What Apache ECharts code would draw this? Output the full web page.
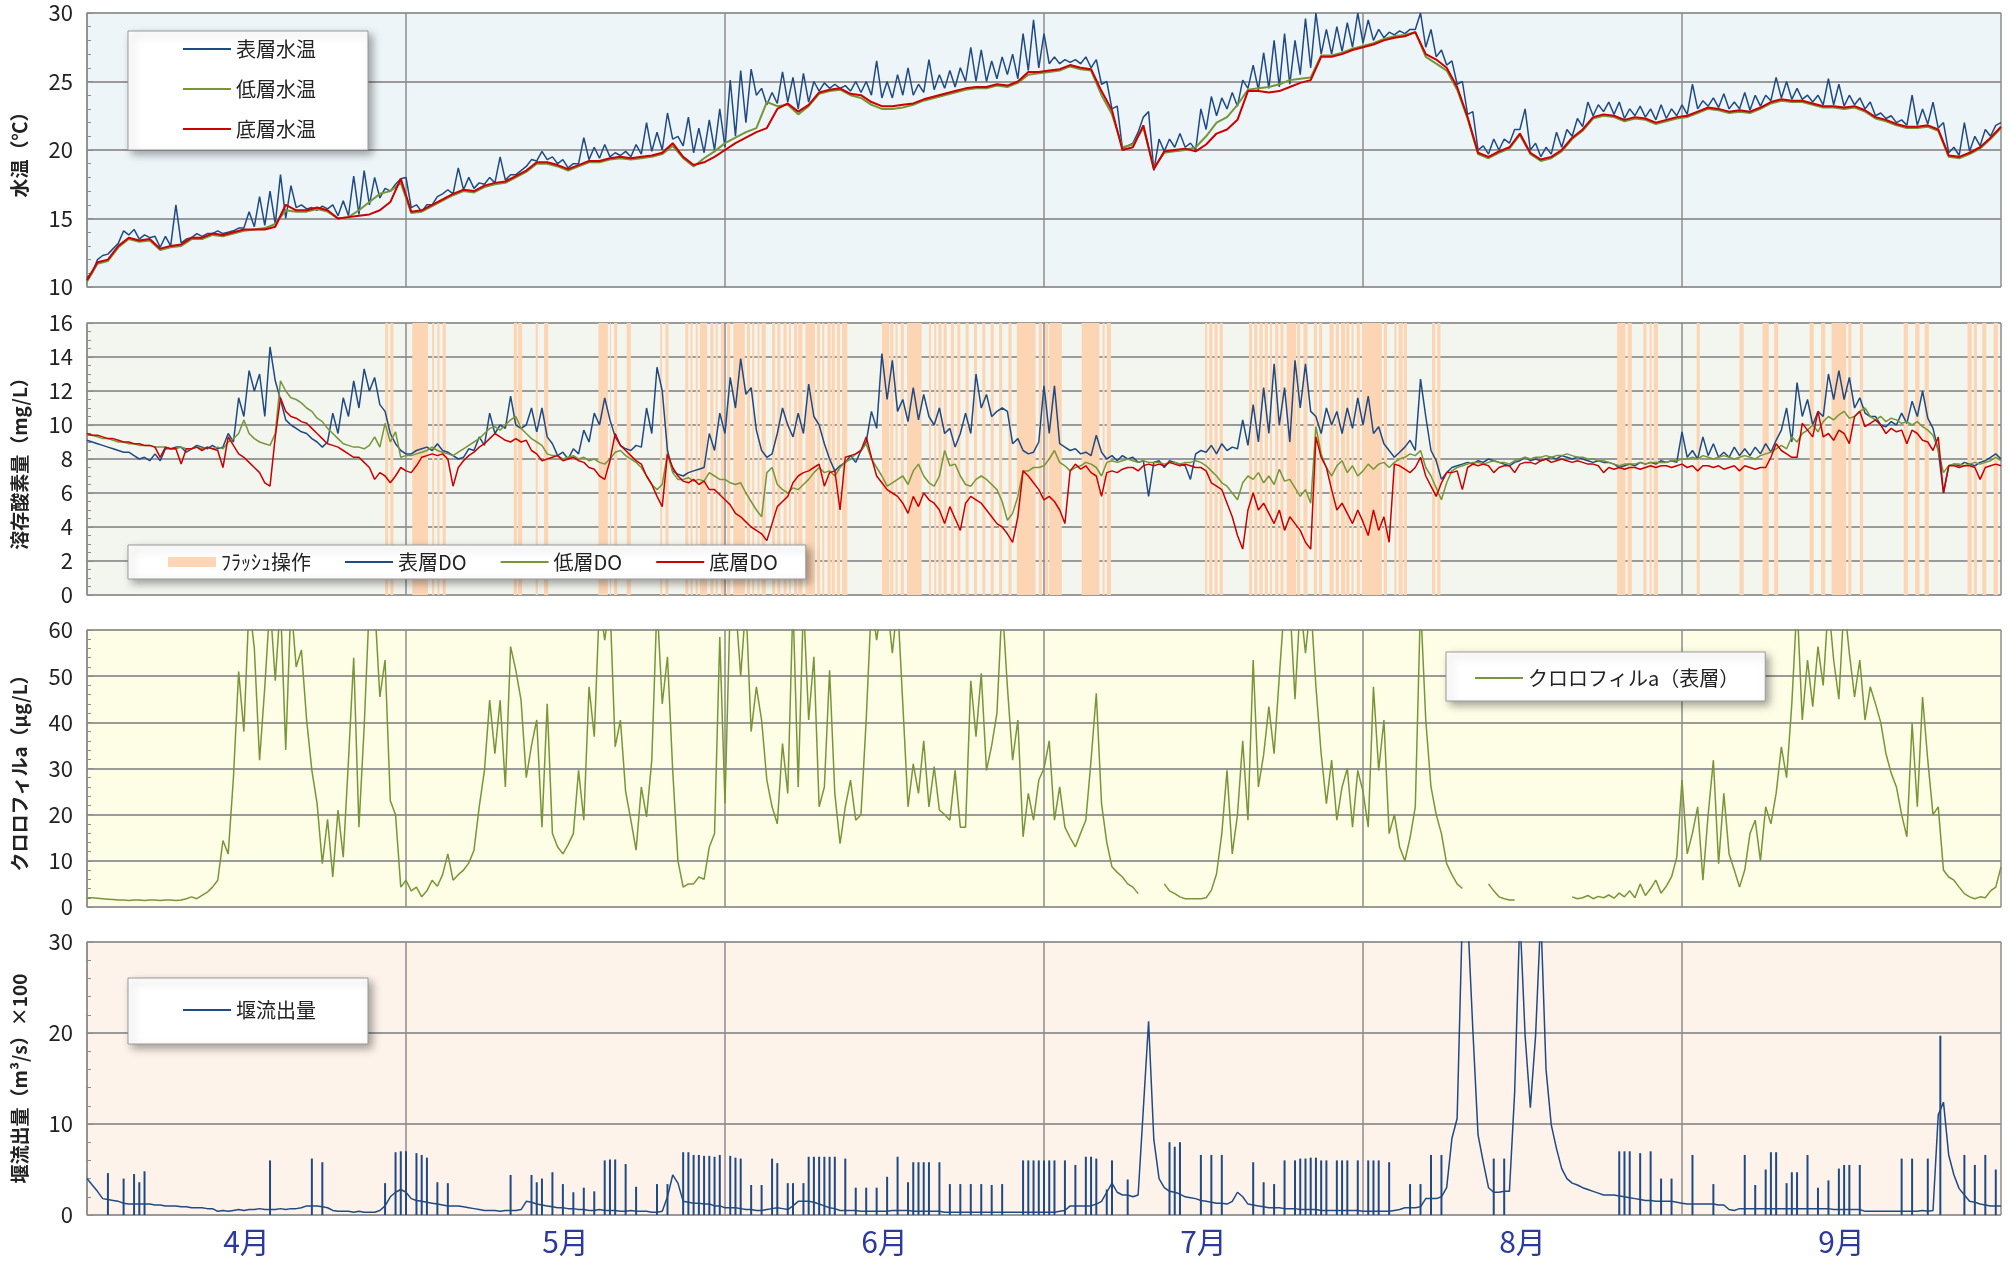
<!DOCTYPE html>
<html>
<head>
<meta charset="utf-8">
<script src="https://cdn.jsdelivr.net/npm/echarts/dist/echarts.min.js"></script>
<style>
  html, body { margin: 0; padding: 0; background: #fff; }
  #chart { width: 2009px; height: 1262px; }
</style>
</head>
<body>
<div id="chart"></div>
<script>
// 月ラベル
const months = ['4月', '5月', '6月', '7月', '8月', '9月'];

// 水温（半日ごと）
const tempSurface = [
  10.7,11.0,12.0,12.3,12.4,12.8,13.2,14.1,13.8,14.2, 13.5,13.8,13.6,13.7,12.9,13.7,13.0,16.0,13.2,13.5,
  13.6,13.9,13.7,13.9,13.9,14.1,13.9,14.0,14.1,14.3, 14.3,15.5,14.4,16.6,14.5,17.0,14.6,18.2,15.0,17.4,
  15.8,16.0,15.7,15.8,15.6,15.9,15.7,16.0,15.2,16.3, 15.2,18.1,15.3,18.5,16.0,18.0,16.5,17.2,17.0,17.5,
  17.9,18.0,15.8,16.0,15.5,16.0,16.0,16.6,16.8,17.1, 16.8,18.7,17.1,18.0,17.2,17.6,17.5,18.0,17.6,19.5,
  17.8,18.2,18.2,18.5,18.8,19.3,19.2,19.9,19.3,19.5, 19.0,19.3,18.7,19.0,19.0,20.9,19.3,20.2,19.4,20.4,
  19.5,19.8,19.6,19.9,19.5,20.4,19.7,22.0,19.9,21.3, 20.0,22.7,20.8,21.0,20.3,22.4,19.8,21.6,19.8,22.2,
  20.0,23.0,20.2,25.1,21.0,25.8,22.0,25.9,24.0,24.5, 23.3,24.2,23.4,25.7,23.5,25.3,23.0,25.6,23.5,25.0,
  24.3,24.9,24.5,24.8,24.5,24.7,24.3,25.0,24.2,25.0, 24.0,26.5,23.8,25.0,23.8,25.5,24.0,26.0,24.0,24.8,
  24.2,26.6,24.4,25.5,24.5,25.8,24.6,26.0,25.0,27.5, 25.0,27.3,25.0,26.5,25.2,26.8,25.5,27.0,25.2,28.5,
  25.8,29.5,26.0,28.5,26.3,26.8,26.3,26.6,26.4,26.6, 26.3,26.8,26.0,26.6,24.8,25.0,23.0,23.2,20.1,20.3,
  20.5,21.3,22.4,22.8,18.5,20.8,19.9,20.8,20.2,21.2, 20.2,20.5,20.0,23.0,21.5,23.9,22.5,23.8,23.0,24.2,
  23.2,25.1,24.5,26.2,24.4,27.1,24.5,28.0,24.6,28.5, 24.8,28.0,25.5,29.6,26.0,30.0,27.0,28.8,27.0,29.0,
  27.2,29.3,27.5,30.0,27.8,29.5,28.0,28.8,28.2,28.6, 28.4,28.7,28.5,28.8,28.8,30.0,27.5,28.8,26.8,27.3,
  26.2,26.5,24.8,25.0,22.6,22.8,20.0,20.3,19.7,20.8, 20.0,20.8,20.5,21.5,21.5,23.0,20.0,20.5,19.5,20.2,
  19.7,21.3,20.2,21.5,21.0,22.3,21.7,23.5,22.5,23.3, 22.8,23.5,22.6,23.5,22.3,23.0,22.5,23.2,22.4,23.0,
  22.2,23.3,22.3,23.0,22.5,23.3,22.6,24.8,23.0,23.6, 23.2,23.8,23.1,24.1,23.0,23.5,23.0,24.2,22.9,24.0,
  23.2,24.0,23.6,25.3,23.8,25.0,23.7,24.5,23.7,24.0, 23.5,24.0,23.3,25.2,23.3,24.8,23.2,24.0,23.3,23.8,
  23.0,23.5,22.5,22.7,22.3,22.5,22.0,22.2,21.8,24.0, 21.8,23.0,21.9,23.5,21.6,22.0,19.8,20.2,19.6,22.0,
  19.9,21.0,20.3,21.5,21.0,21.8,22.0
];
// 水温（日ごと）
const tempLow = [
  10.4,11.7,11.9,12.9,13.5,13.3,13.4,12.7,12.9,13.0, 13.5,13.5,13.8,13.7,13.9,14.1,14.2,14.3,14.6,15.6,
  15.5,15.5,15.7,15.5,15.0,15.1,15.6,16.2,16.8,17.0, 17.6,15.4,15.5,15.9,16.3,16.7,17.0,16.9,17.3,17.5,
  17.6,18.0,18.4,19.0,19.0,18.8,18.5,18.8,19.1,19.1, 19.3,19.4,19.3,19.4,19.5,19.7,20.3,19.4,18.8,19.4,
  19.9,20.5,20.9,21.3,21.6,23.5,23.2,23.3,22.6,23.2, 24.1,24.3,24.4,24.0,23.8,23.3,23.0,23.0,23.1,23.3,
  23.6,23.8,24.0,24.2,24.4,24.5,24.5,24.7,24.6,24.9, 25.5,25.6,25.7,25.8,26.1,25.9,25.8,24.0,22.6,20.2,
  20.4,21.6,18.7,19.8,19.9,20.0,20.2,21.0,22.0,22.4, 23.3,24.4,24.5,24.6,24.8,25.1,25.2,25.3,26.9,26.9,
  27.1,27.4,27.6,27.8,28.1,28.3,28.4,28.6,26.8,26.3, 25.8,24.4,22.3,19.7,19.4,19.8,20.1,21.1,19.7,19.2,
  19.4,19.9,20.8,21.4,22.3,22.5,22.4,22.1,22.3,22.2, 21.9,22.1,22.3,22.4,22.7,23.0,22.9,22.7,22.8,22.7,
  23.0,23.4,23.6,23.5,23.5,23.3,23.1,23.1,23.0,23.1, 22.8,22.3,22.1,21.8,21.6,21.6,21.7,21.4,19.5,19.4,
  19.7,20.1,20.8,21.6
];
const tempBottom = [
  10.5,11.8,12.0,13.0,13.6,13.4,13.5,12.8,13.0,13.1, 13.6,13.6,13.9,13.8,14.0,14.2,14.2,14.2,14.4,16.0,
  15.6,15.6,15.8,15.6,15.0,15.1,15.2,15.3,15.6,16.2, 17.9,15.5,15.6,16.0,16.4,16.8,17.1,17.0,17.4,17.6,
  17.7,18.1,18.5,19.1,19.1,18.9,18.6,18.9,19.2,19.2, 19.4,19.5,19.4,19.5,19.6,19.8,20.5,19.5,18.9,19.1,
  19.5,20.0,20.5,20.9,21.3,21.6,23.0,23.4,22.8,23.3, 24.2,24.4,24.5,24.1,24.0,23.5,23.2,23.2,23.3,23.4,
  23.7,23.9,24.1,24.3,24.5,24.6,24.6,24.8,24.7,25.0, 25.7,25.7,25.8,25.9,26.2,26.0,25.9,24.3,22.9,20.0,
  20.2,21.8,18.6,19.9,20.0,20.1,19.9,20.4,21.2,21.5, 22.2,24.3,24.3,24.2,24.3,24.6,24.9,25.1,26.8,26.8,
  27.0,27.3,27.5,27.7,28.0,28.2,28.3,28.6,27.0,26.6, 26.0,24.6,22.4,19.8,19.5,19.9,20.2,21.2,19.8,19.3,
  19.5,20.0,20.9,21.5,22.4,22.6,22.5,22.2,22.4,22.3, 22.0,22.2,22.4,22.5,22.8,23.1,23.0,22.8,22.9,22.8,
  23.1,23.5,23.7,23.6,23.6,23.4,23.2,23.2,23.1,23.2, 22.9,22.4,22.2,21.9,21.7,21.7,21.8,21.5,19.6,19.5,
  19.8,20.2,20.9,21.7
];

// 溶存酸素量（半日ごと）
const doSurface = [
  9.1,9.0,8.9,8.8,8.7,8.6,8.5,8.4,8.4,8.2, 8.0,8.1,7.9,8.3,7.9,8.6,8.6,8.7,8.7,8.4,
  8.6,8.8,8.7,8.6,8.8,8.6,8.7,9.5,9.0,11.6, 10.5,13.2,12.0,13.0,10.5,14.6,12.6,11.5,10.3,10.0,
  9.8,9.6,9.5,9.2,9.0,8.7,9.0,10.7,9.5,11.6, 10.5,12.6,11.0,13.3,12.0,12.8,11.2,10.8,9.5,8.9,
  8.5,8.3,8.3,8.5,8.6,8.7,8.5,8.9,8.5,8.4, 8.2,8.0,8.1,8.6,8.5,9.3,8.8,10.7,9.5,10.0,
  9.8,11.7,10.0,9.8,10.0,11.0,9.6,11.0,9.3,8.9, 8.2,8.4,8.0,8.6,8.3,9.7,9.0,10.7,10.0,11.6,
  10.3,9.3,8.8,8.6,8.5,8.8,8.7,11.0,9.5,13.4, 12.0,8.5,7.3,7.1,7.0,7.2,7.3,7.4,7.5,9.5,
  8.5,10.7,9.5,12.8,11.0,13.9,11.8,12.2,9.7,8.5, 8.1,8.3,9.5,11.0,10.0,9.3,10.7,9.5,12.4,10.5,
  10.0,8.9,8.0,7.3,7.6,7.8,8.2,7.8,8.5,9.0, 10.8,9.8,14.2,11.5,13.8,10.8,11.5,10.2,12.2,10.3,
  11.8,10.5,10.0,11.0,9.5,9.8,8.7,9.5,10.7,9.5, 13.0,11.0,11.8,10.5,10.8,11.0,10.8,8.9,9.2,8.5,
  8.3,8.4,9.0,12.3,9.5,12.3,8.9,8.7,8.5,8.6, 8.3,8.4,8.2,9.4,8.4,8.0,8.2,7.9,8.2,8.0,
  8.1,7.8,7.9,5.8,7.8,7.9,7.5,7.9,7.8,7.7, 7.6,6.8,8.3,8.5,8.4,8.8,8.3,8.9,8.5,8.7,
  8.6,10.3,8.8,11.2,9.0,12.2,9.5,13.6,10.0,12.2, 9.0,13.8,11.0,13.6,10.8,10.5,9.5,11.0,10.0,10.8,
  9.5,11.0,9.8,11.6,10.0,11.7,9.5,9.9,8.9,8.5, 8.1,8.4,8.7,9.1,8.5,12.7,10.5,8.5,7.9,6.8,
  7.2,7.5,7.6,7.7,7.8,7.7,7.9,7.8,8.0,7.9, 7.8,7.7,7.6,7.8,7.9,8.1,7.9,8.0,7.9,8.0,
  8.1,8.0,8.2,8.1,8.0,8.1,8.0,7.9,7.8,7.9, 7.8,7.8,7.7,7.5,7.6,7.7,7.6,7.8,7.7,7.8,
  7.7,7.9,7.8,7.9,7.8,9.6,8.1,8.5,8.0,9.3, 8.2,8.9,8.1,8.4,8.1,8.7,8.2,8.6,8.2,8.7,
  8.3,8.9,8.4,9.1,9.7,11.0,9.0,12.5,10.5,11.5, 10.0,10.8,10.5,13.0,11.5,13.2,11.5,12.8,11.0,11.6,
  10.7,10.5,10.5,10.0,9.9,10.2,10.0,10.7,10.1,11.4, 10.5,12.0,10.4,9.8,8.5,6.0,7.6,7.7,7.6,7.8,
  7.7,7.6,7.8,7.9,8.1,8.3,8.0
];
const doLow = [
  9.4,9.4,9.3,9.2,9.2,9.1,9.0,9.0,8.9,8.9, 8.8,8.8,8.8,8.7,8.7,8.7,8.6,8.6,8.7,8.6,
  8.6,8.7,8.6,8.7,8.6,8.7,8.6,9.0,9.2,9.5, 10.3,9.5,9.2,9.0,8.9,8.8,9.5,12.6,12.0,11.6,
  11.5,11.3,11.0,10.8,10.4,10.2,9.8,9.5,9.2,8.9, 8.8,8.7,8.7,8.6,8.8,9.3,8.7,10.1,9.0,9.6,
  8.1,8.2,8.2,8.3,8.4,8.5,8.7,8.5,8.4,8.3, 8.2,8.4,8.6,8.8,9.0,9.2,9.5,9.8,9.9,9.7,
  10.0,10.3,10.5,9.8,9.5,9.2,9.0,8.8,8.3,8.2, 8.2,8.0,8.1,8.2,8.0,8.1,7.9,8.0,7.8,7.7,
  8.0,8.4,8.5,8.2,8.0,7.8,7.5,7.0,6.5,6.2, 6.5,8.3,7.2,6.8,6.8,6.9,6.7,6.8,6.7,7.2,
  7.0,6.8,6.8,6.6,6.5,6.6,6.0,5.5,5.0,4.6, 7.2,7.5,6.5,6.2,6.0,6.3,6.2,6.5,6.8,7.2,
  7.5,7.2,7.3,7.0,7.5,7.8,8.0,8.3,8.5,8.9, 8.0,7.5,7.0,6.4,6.6,6.8,7.0,6.5,7.3,7.7,
  7.0,6.6,6.4,7.0,8.5,7.6,7.7,7.0,6.5,6.4, 6.8,7.0,6.8,6.5,6.2,5.5,4.4,4.8,5.8,7.3,
  7.3,7.5,7.5,7.6,8.0,8.5,7.8,7.6,7.3,7.5, 7.6,7.8,7.7,7.5,7.0,7.8,7.9,7.8,7.9,8.0,
  7.9,7.8,7.9,7.8,7.8,7.8,7.7,7.8,7.8,7.7, 7.8,7.8,7.9,7.8,7.6,7.3,7.0,6.6,6.4,6.0,
  5.6,6.6,7.0,6.8,7.2,6.6,7.0,6.5,7.4,6.7, 6.8,6.3,5.8,6.2,5.4,9.9,8.3,7.5,7.0,7.6,
  7.9,7.2,7.6,7.0,7.3,7.7,7.4,7.7,7.8,7.5, 7.8,8.0,8.1,8.3,8.2,8.5,7.5,7.0,6.3,5.6,
  6.6,7.3,7.5,7.6,7.7,7.8,7.8,7.7,7.8,7.9, 7.8,7.8,7.7,7.9,8.0,8.1,8.0,8.1,8.1,8.2,
  8.1,8.2,8.2,8.3,8.2,8.1,8.1,8.0,8.0,7.9, 7.9,7.8,7.7,7.6,7.7,7.7,7.7,7.8,7.7,7.8,
  7.8,7.8,7.8,7.9,7.9,8.0,8.0,8.1,8.0,8.2, 8.1,8.0,8.1,8.2,8.1,8.0,8.1,8.2,8.1,8.0,
  8.2,8.3,8.4,8.6,8.8,8.6,9.3,9.0,9.5,9.7, 10.0,9.6,10.2,10.5,10.3,10.6,10.8,10.4,10.5,10.8,
  11.0,10.5,10.3,10.5,10.2,10.4,10.3,10.1,10.2,10.0, 10.2,9.9,9.7,9.4,8.5,7.2,7.6,7.7,7.7,7.6,
  7.7,7.8,7.7,7.8,7.9,8.1,7.9
];
const doBottom = [
  9.5,9.4,9.4,9.3,9.2,9.2,9.1,9.0,9.0,8.9, 8.9,8.8,8.8,8.7,8.1,8.7,8.6,8.6,7.7,8.6,
  8.6,8.7,8.5,8.7,8.6,8.5,7.5,9.3,8.8,8.3, 8.1,7.8,7.5,7.2,6.6,6.4,9.3,11.6,10.8,10.5,
  10.4,10.2,10.1,9.8,9.5,9.2,8.9,8.8,8.7,8.5, 8.3,8.1,8.1,7.8,7.5,6.8,7.2,7.0,6.6,7.0,
  7.5,7.3,7.2,7.6,8.1,8.2,8.3,8.2,8.3,8.0, 6.4,7.5,7.9,8.2,8.4,8.7,8.9,9.2,9.5,9.3,
  9.1,9.0,9.2,9.0,9.1,8.5,8.3,7.9,8.0,8.1, 8.2,7.9,8.0,8.1,7.9,7.8,7.5,7.4,7.0,6.8,
  7.9,9.5,8.8,8.5,8.2,7.9,7.7,7.0,6.5,5.8, 5.2,8.3,7.5,7.0,6.7,6.6,6.8,6.5,6.7,6.2,
  6.2,5.9,5.6,5.3,4.8,4.6,4.3,4.0,3.8,3.6, 3.2,4.2,5.2,5.5,5.8,6.6,7.0,7.2,7.3,7.5,
  7.7,6.4,7.2,7.3,5.0,8.1,8.2,8.3,8.5,9.3, 8.1,7.0,6.6,6.2,6.0,5.8,5.4,4.8,5.8,5.2,
  6.0,5.6,5.4,5.0,4.2,5.2,4.5,3.8,5.4,5.8, 5.6,5.4,5.0,4.6,4.2,4.0,3.6,3.1,4.6,7.3,
  7.0,6.6,6.2,5.6,5.8,5.5,5.0,4.2,7.3,7.7, 7.4,7.6,7.2,7.0,5.8,7.2,7.3,7.2,7.4,7.5,
  7.5,7.3,7.6,7.7,7.6,7.7,7.6,7.8,7.7,7.6, 7.7,7.6,7.5,7.5,7.3,6.6,6.4,6.2,5.4,4.6,
  3.5,2.7,5.0,6.0,5.0,5.4,4.8,4.2,5.0,3.8, 4.6,4.2,3.8,3.1,2.7,9.3,8.1,7.5,6.2,5.0,
  5.4,4.8,4.2,5.0,4.3,3.5,5.0,3.8,4.6,3.1, 7.7,7.6,7.4,7.2,7.5,8.1,7.0,6.4,5.8,6.6,
  7.2,7.2,7.3,6.2,7.5,7.7,7.6,7.7,7.6,7.2, 7.5,7.6,7.6,7.2,7.7,7.8,7.8,7.7,7.9,8.0,
  7.8,7.9,8.0,7.9,7.8,7.9,7.8,7.7,7.7,7.6, 7.2,7.5,7.4,7.5,7.4,7.5,7.5,7.4,7.5,7.6,
  7.5,7.6,7.6,7.5,7.6,7.7,7.5,7.6,7.3,7.6, 7.6,7.5,7.6,7.4,7.5,7.6,7.3,7.6,7.5,7.4,
  7.5,7.5,8.1,8.9,8.5,8.3,8.1,8.1,10.1,9.7, 9.3,10.8,9.3,9.5,9.1,9.7,9.5,8.9,10.5,10.8,
  9.9,10.1,10.3,10.0,9.5,9.8,9.6,9.7,8.9,9.7, 9.5,9.1,9.0,8.5,9.3,6.0,7.6,7.6,7.5,7.6,
  7.6,7.5,6.8,7.5,7.6,7.7,7.6
];

// フラッシュ操作の期間（日）
const flush = [
  [28.5,28.8],[29.0,29.3],[31.1,32.6],[33.0,33.2],[33.5,33.7],[34.0,34.3],[40.8,41.1],[41.2,41.6],[42.9,43.1],[43.7,44.1],
  [48.9,49.8],[50.0,50.1],[50.4,50.7],[51.6,52.0],[54.8,55.0],[55.3,55.6],[57.2,57.5],[57.7,57.9],[58.2,58.4],[58.6,59.3],
  [59.6,59.9],[60.1,60.3],[60.6,60.9],[61.2,61.5],[61.8,62.9],[63.1,63.4],[63.6,63.8],[64.1,64.3],[64.5,64.9],[65.5,65.8],
  [66.0,66.3],[66.6,66.9],[67.1,67.3],[67.6,67.9],[68.0,68.4],[68.7,69.6],[69.8,70.1],[70.3,70.5],[70.8,71.1],[71.2,71.5],
  [71.7,72.0],[72.2,72.7],[76.0,76.7],[76.8,77.1],[77.3,77.5],[77.8,78.1],[78.4,79.8],[80.5,80.7],[81.0,81.2],[81.4,81.7],
  [81.9,82.2],[82.6,82.9],[83.2,83.5],[84.0,84.3],[84.8,85.1],[85.6,85.9],[86.4,86.7],[87.2,87.5],[88.1,88.4],[88.9,90.7],
  [91.0,91.3],[91.6,91.9],[92.0,93.2],[95.1,96.8],[97.1,97.3],[97.5,97.9],
  [106.9,107.1],[107.3,107.6],[107.8,108.1],[108.3,108.6],[111.1,111.4],[111.6,111.9],[112.1,112.4],[112.6,112.9],[113.1,113.3],
  [113.6,113.9],[114.1,114.4],[114.7,115.6],[115.7,116.0],[116.3,116.7],[117.3,117.6],[117.8,118.1],[118.8,119.2],[119.4,119.7],
  [119.9,120.3],[120.4,120.7],[120.9,121.1],[121.4,121.7],[121.9,123.8],[124.0,124.3],[125.0,125.2],[125.4,125.8],[125.9,126.2],
  [128.6,128.9],[129.1,129.4],
  [146.3,147.1],[147.3,147.7],[148.8,149.1],[149.4,149.6],[149.8,150.2],[153.9,154.2],[158.0,158.4],[160.2,160.8],[161.3,161.7],
  [164.7,165.1],[165.8,166.2],[166.8,168.2],[168.4,168.7],[169.5,169.8],[173.7,174.1],[174.8,175.2],[175.7,176.1],[179.8,180.2],
  [180.4,180.7],[181.2,181.6],[182.3,182.7]
];

// クロロフィルa（半日ごと、欠測は null、66 は上限超え）
const chla = [
  2.0,2.0,1.9,1.8,1.7,1.6,1.5,1.5,1.4,1.5, 1.5,1.4,1.5,1.5,1.4,1.5,1.5,1.4,1.5,1.8,
  2.2,1.8,2.5,3.2,4.3,5.8,14.4,11.5,28.0,51.0, 38.0,66,56.0,31.8,47.7,66,49.0,66,34.0,66,
  52.0,55.7,40.5,29.6,22.4,9.4,19.0,6.5,21.0,10.8, 31.8,54.0,17.3,39.0,66,66,45.5,53.5,23.0,20.0,
  4.3,5.8,3.5,4.3,2.2,3.5,5.8,4.5,7.0,11.5, 5.8,7.0,8.0,9.5,12.3,21.7,29.6,44.8,33.2,44.8,
  26.0,56.4,51.3,44.8,28.0,35.0,40.5,17.3,44.0,15.9, 13.0,11.5,13.5,15.9,29.6,18.8,47.7,36.9,66,57.8,
  66,34.7,40.5,25.0,18.8,12.3,26.0,19.5,31.8,66, 44.0,54.2,29.6,10.0,4.3,5.0,5.0,6.5,6.0,13.0,
  15.9,58.5,22.4,66,66,50.0,66,38.0,47.7,40.5, 27.5,21.7,18.0,35.4,24.6,66,26.0,66,40.5,54.2,
  21.7,26.0,51.3,24.6,13.7,21.7,27.5,18.8,20.0,40.5, 66,57.8,66,66,55.0,66,44.0,21.7,31.0,24.6,
  36.0,21.7,30.4,21.0,20.0,18.8,29.6,17.3,17.3,49.0, 36.9,50.6,29.6,35.0,42.0,66,47.7,31.8,40.5,15.2,
  24.6,18.8,27.5,30.0,36.0,18.8,26.0,17.3,15.0,13.0, 16.0,18.8,31.8,46.3,22.4,14.0,8.7,7.5,6.5,5.0,
  4.3,2.9,null,null,null,null,5.0,3.5,2.9,2.2, 1.8,1.8,1.8,1.8,2.0,3.6,7.2,15.9,29.6,11.5,
  20.0,36.0,18.8,53.5,26.0,33.0,43.4,33.2,50.0,66, 66,45.0,66,55.0,66,47.7,33.2,22.4,31.8,18.8,
  26.0,30.0,17.3,29.6,25.0,17.3,47.7,29.6,40.5,15.9, 20.0,13.0,10.0,15.0,21.7,66,40.5,26.0,20.0,15.9,
  9.4,7.0,5.0,4.0,null,null,null,null,5.0,3.5, 2.2,1.8,1.5,1.5,null,null,null,null,null,null,
  null,null,null,null,2.2,1.8,2.0,2.5,1.8,2.3, 2.0,2.6,1.9,3.0,2.2,3.5,2.0,5.0,2.5,4.0,
  5.8,3.0,4.5,6.5,10.8,27.5,11.5,16.0,21.7,5.8, 20.0,31.8,9.4,24.6,11.5,8.0,4.3,8.0,15.9,18.8,
  10.0,21.7,18.0,24.6,34.7,28.0,44.0,66,40.5,53.5, 43.4,56.4,48.0,66,53.5,45.0,66,55.0,45.5,53.5,
  40.5,47.7,44.0,40.0,33.2,29.0,26.0,20.0,15.2,39.8, 21.7,45.5,31.8,20.0,21.7,8.0,6.5,5.8,4.3,2.9,
  2.2,1.8,2.2,2.0,3.5,4.3,8.7
];

// 堰流出量のベース（半日ごと、33 は上限超え）
const outflowBase = [
  4.0,3.3,2.6,1.8,1.7,1.6,1.5,1.3,1.2,1.2, 1.2,1.2,1.2,1.1,1.1,1.0,1.0,1.0,0.9,0.9,
  0.8,0.8,0.8,0.7,0.7,0.4,0.5,0.4,0.5,0.6, 0.5,0.6,0.6,0.7,0.6,0.6,0.6,0.7,0.6,0.7,
  0.7,0.8,1.0,1.0,1.0,0.9,0.8,0.5,0.4,0.4, 0.4,0.3,0.4,0.3,0.3,0.3,0.5,1.0,2.0,2.5,
  2.8,2.5,1.8,1.6,1.5,1.4,1.3,1.2,1.1,1.0, 1.0,1.0,0.9,0.8,0.7,0.6,0.5,0.5,0.5,0.4,
  0.5,0.5,0.5,0.6,1.5,1.4,1.2,1.1,1.0,0.9, 0.8,0.8,0.7,0.7,0.6,0.6,0.5,0.5,0.6,0.5,
  0.5,0.5,0.4,0.4,0.5,0.4,0.4,0.4,0.3,0.3, 0.4,2.0,4.4,3.5,1.5,1.4,1.3,1.3,1.2,1.2,
  1.0,1.0,0.8,0.8,0.8,0.7,0.6,0.6,0.5,0.5, 0.6,0.7,0.8,0.7,0.6,1.0,1.5,1.5,1.5,1.4,
  1.2,1.0,0.8,0.7,0.5,0.5,0.5,0.5,0.4,0.4, 0.4,0.4,0.4,0.4,0.5,0.5,0.5,0.5,0.4,0.4,
  0.4,0.4,0.4,0.4,0.3,0.3,0.3,0.3,0.3,0.3, 0.3,0.3,0.3,0.3,0.3,0.3,0.3,0.3,0.3,0.3,
  0.3,0.3,0.3,0.3,0.3,0.3,0.4,0.5,1.0,1.0, 1.0,1.0,1.0,1.2,1.5,2.5,3.5,2.5,2.2,2.2,
  2.0,2.2,11.7,21.3,8.3,4.0,3.0,2.6,2.5,2.3, 2.0,1.9,1.8,1.6,1.5,1.4,1.3,1.3,1.2,1.5,
  2.5,2.0,1.2,1.1,1.0,0.9,0.8,0.8,0.8,0.7, 0.7,0.7,0.6,0.6,0.6,0.6,0.5,0.5,0.5,0.5,
  0.5,0.5,0.5,0.5,0.4,0.4,0.4,0.4,0.4,0.4, 0.5,0.6,0.8,0.8,0.8,0.9,1.8,1.8,1.8,2.0,
  3.0,8.4,10.6,33,33,20.4,8.8,5.8,3.0,2.5, 2.5,2.6,2.6,13.5,33,19.7,11.8,19.7,33,16.0,
  9.9,7.3,5.1,4.0,3.5,3.3,3.0,2.8,2.6,2.4, 2.2,2.2,2.2,2.1,2.0,1.9,1.8,1.7,1.6,1.6,
  1.5,1.5,1.5,1.5,1.4,1.3,1.2,1.2,1.2,1.2, 1.2,1.2,1.1,1.1,0.6,0.5,0.7,0.7,0.7,0.7,
  0.7,0.7,0.7,0.7,0.7,0.7,0.7,0.7,0.7,0.7, 0.7,0.7,0.7,0.7,0.6,0.6,0.6,0.6,0.6,0.6,
  0.4,0.4,0.4,0.4,0.4,0.4,0.4,0.4,0.4,0.4, 0.4,0.5,0.4,0.5,11.0,12.4,6.6,4.4,2.9,2.2,
  1.5,1.4,1.2,1.1,1.0,1.0,1.0
];

// 堰流出量のフラッシュ時の短いピーク [日, 値]
const outflowSpikes = [
  [2.0,4.6],[3.5,4.0],[4.5,4.5],[5.0,3.6],[5.5,4.8],
  [17.5,6.0],[21.5,6.2],[22.5,5.8],
  [28.5,3.5],[29.5,6.9],[30.0,7.0],[30.5,7.0],[31.5,6.8],[32.0,6.6],[32.5,6.3],[33.5,3.6],[34.5,3.5],
  [40.5,4.4],[42.5,4.4],[43.0,3.6],[43.5,4.0],[44.5,4.7],[45.5,3.4],[46.5,2.5],[47.5,3.0],[48.5,2.6],
  [49.5,6.0],[50.0,6.1],[50.5,6.1],[51.5,5.6],[52.5,3.1],
  [54.5,3.4],[55.5,3.4],[57.0,6.9],[57.5,6.9],[58.0,6.6],[58.5,6.6],[59.0,6.5],[59.5,6.5],[60.0,6.4],[60.5,6.6],
  [61.5,6.5],[62.0,6.3],[62.5,6.2],[63.5,3.3],[64.5,3.3],[65.5,6.2],[66.0,5.7],[67.0,3.5],[67.5,3.5],[68.5,3.5],
  [69.0,6.4],[69.5,6.4],[70.0,6.4],[70.5,6.4],[71.0,6.4],[71.5,6.4],[72.5,6.2],[73.5,3.0],[74.5,3.0],[75.5,3.0],
  [76.5,4.2],[77.5,6.4],[78.5,3.6],[79.0,5.8],[79.5,5.8],[80.0,5.8],[80.5,5.8],[81.5,5.8],[82.5,3.4],[83.5,3.4],
  [84.5,3.4],[85.5,3.4],[86.5,3.3],[87.5,3.4],
  [89.5,6.0],[90.0,6.0],[90.5,6.0],[91.0,6.0],[91.5,6.0],[92.0,6.0],[92.5,6.0],[93.5,6.0],
  [94.5,5.5],[95.5,6.4],[96.0,6.4],[96.5,6.2],[97.5,2.8],[98.0,6.0],[99.5,3.9],
  [103.5,8.0],[104.0,7.5],[104.5,8.0],[106.5,6.6],[107.5,6.6],[108.5,6.6],[111.5,5.8],[112.5,3.6],[113.5,3.4],
  [114.5,6.0],[115.5,6.0],[116.0,6.2],[116.5,6.2],[117.0,6.3],[117.5,6.3],[118.0,6.0],[118.5,6.0],[119.5,6.0],
  [120.0,6.0],[120.5,6.0],[121.5,6.0],[122.5,6.0],[123.0,6.0],[123.5,6.0],[124.5,5.8],
  [126.5,3.4],[127.5,3.4],[128.5,6.6],[129.5,6.6],
  [134.5,6.2],[135.5,6.2],
  [146.5,7.0],[147.0,7.0],[147.5,7.0],[148.5,6.8],[149.5,7.0],[150.5,4.0],[151.5,4.0],[153.5,6.6],[155.5,3.4],
  [158.5,6.6],[159.5,3.3],[160.5,5.0],[161.0,6.9],[161.5,6.9],[162.5,3.5],[163.0,4.7],[163.5,4.7],[164.5,6.6],
  [165.5,3.0],[166.5,3.8],[167.5,5.1],[168.0,5.5],[168.5,5.5],[169.5,5.5],
  [173.5,6.2],[174.5,6.2],[176.0,6.2],[177.2,19.7],
  [179.5,6.6],[180.5,5.5],[181.5,6.6],[182.5,5.0]
];

const FONT = '"Noto Sans CJK JP", "Noto Sans", sans-serif';
const DAYS = 183;
const BLUE = '#1f4a84';
const GREEN = '#779638';
const RED = '#cc0000';
const PEACH = '#fcd5b4';
const linePath = 'path://M0,0H100V4H0Z';

// 配列を 0〜183 日に均等配置
function spread(arr) {
  const step = DAYS / (arr.length - 1);
  return arr.map((v, i) => [i * step, v]);
}

function lineSeries(name, data, color, idx, width) {
  return {
    name: name,
    type: 'line',
    xAxisIndex: idx,
    yAxisIndex: idx,
    data: spread(data),
    color: color,
    symbol: 'none',
    showSymbol: false,
    silent: true,
    lineStyle: { width: width || 1.5, color: color }
  };
}

const grids = [
  { top: 13, height: 274, bg: '#edf5f9' },
  { top: 323, height: 272, bg: '#f3f6ee' },
  { top: 630, height: 277, bg: '#fefde6' },
  { top: 942, height: 273, bg: '#fdf3ea' }
];

const yDefs = [
  { min: 10, max: 30, interval: 5, minor: 5, name: '水温（℃）' },
  { min: 0, max: 16, interval: 2, minor: 4, name: '溶存酸素量（mg/L）' },
  { min: 0, max: 60, interval: 10, minor: 5, name: 'クロロフィルa（μg/L）' },
  { min: 0, max: 30, interval: 10, minor: 5, name: '堰流出量（m³/s）×100' }
];

const legendBase = {
  backgroundColor: '#fff',
  borderColor: '#9a9a9a',
  borderWidth: 1,
  shadowBlur: 8,
  shadowColor: 'rgba(0,0,0,0.35)',
  shadowOffsetX: 4,
  shadowOffsetY: 4,
  itemWidth: 48,
  itemHeight: 10,
  itemGap: 20,
  selectedMode: false,
  textStyle: { fontSize: 20, color: '#222', fontFamily: FONT }
};

const chart = echarts.init(document.getElementById('chart'));
chart.setOption({
  animation: false,
  textStyle: { fontFamily: FONT },
  grid: grids.map(g => ({
    left: 87, right: 8, top: g.top, height: g.height,
    show: true, backgroundColor: g.bg, borderWidth: 0
  })),
  xAxis: grids.map((g, i) => ({
    type: 'value', gridIndex: i, position: 'bottom',
    min: 0, max: DAYS, interval: 30.5,
    axisLabel: { show: false },
    axisTick: { show: false },
    axisLine: { show: false },
    splitLine: { show: true, lineStyle: { color: '#8c8c8c', width: 1.5 } }
  })).concat([{
    type: 'category', gridIndex: 3, position: 'bottom',
    data: months, boundaryGap: true,
    axisLine: { show: false },
    axisTick: { show: false },
    splitLine: { show: false },
    axisLabel: { fontSize: 30, color: '#2b3a9c', margin: 12, fontFamily: FONT }
  }]),
  yAxis: yDefs.map((d, i) => ({
    type: 'value', gridIndex: i,
    min: d.min, max: d.max, interval: d.interval,
    name: d.name, nameLocation: 'middle', nameGap: 58, nameRotate: 90,
    nameTextStyle: { fontSize: 19, fontWeight: 'bold', color: '#222', fontFamily: FONT },
    axisLine: { show: true, lineStyle: { color: '#8c8c8c', width: 1.5 } },
    axisTick: { show: true, inside: true, length: 6, lineStyle: { color: '#8c8c8c' } },
    minorTick: { show: true, splitNumber: d.minor, length: 4, lineStyle: { color: '#8c8c8c' } },
    axisLabel: { fontSize: 22, color: '#222', margin: 14, fontFamily: FONT },
    splitLine: { show: true, lineStyle: { color: '#9a9a9a', width: 2 } }
  })),
  legend: [
    Object.assign({}, legendBase, {
      orient: 'vertical', left: 128, top: 31, padding: [8, 52, 11, 55],
      data: ['表層水温', '低層水温', '底層水温'].map(n => ({ name: n, icon: linePath }))
    }),
    Object.assign({}, legendBase, {
      orient: 'horizontal', left: 128, top: 545, padding: [7, 28, 7, 40], itemGap: 34,
      data: [{ name: 'ﾌﾗｯｼｭ操作', icon: 'rect' }].concat(
        ['表層DO', '低層DO', '底層DO'].map(n => ({ name: n, icon: linePath })))
    }),
    Object.assign({}, legendBase, {
      orient: 'horizontal', left: 1446, top: 652, padding: [16, 26, 13, 29],
      data: [{ name: 'クロロフィルa（表層）', icon: linePath }]
    }),
    Object.assign({}, legendBase, {
      orient: 'vertical', left: 128, top: 978, padding: [22, 52, 24, 55],
      data: [{ name: '堰流出量', icon: linePath }]
    })
  ],
  series: [
    lineSeries('表層水温', tempSurface, BLUE, 0),
    lineSeries('低層水温', tempLow, GREEN, 0, 2),
    lineSeries('底層水温', tempBottom, RED, 0, 2),
    {
      name: 'ﾌﾗｯｼｭ操作', type: 'line', xAxisIndex: 1, yAxisIndex: 1,
      data: [], color: PEACH, symbol: 'none',
      markArea: {
        silent: true,
        itemStyle: { color: PEACH, opacity: 1 },
        data: flush.map(f => [{ xAxis: f[0] }, { xAxis: f[1] }])
      }
    },
    lineSeries('表層DO', doSurface, BLUE, 1),
    lineSeries('低層DO', doLow, GREEN, 1),
    lineSeries('底層DO', doBottom, RED, 1),
    lineSeries('クロロフィルa（表層）', chla, GREEN, 2),
    lineSeries('堰流出量', outflowBase, BLUE, 3),
    {
      name: '堰流出量', type: 'bar', xAxisIndex: 3, yAxisIndex: 3,
      data: outflowSpikes, color: BLUE, barWidth: 2, silent: true,
      itemStyle: { color: BLUE }
    }
  ]
});
</script>
</body>
</html>
